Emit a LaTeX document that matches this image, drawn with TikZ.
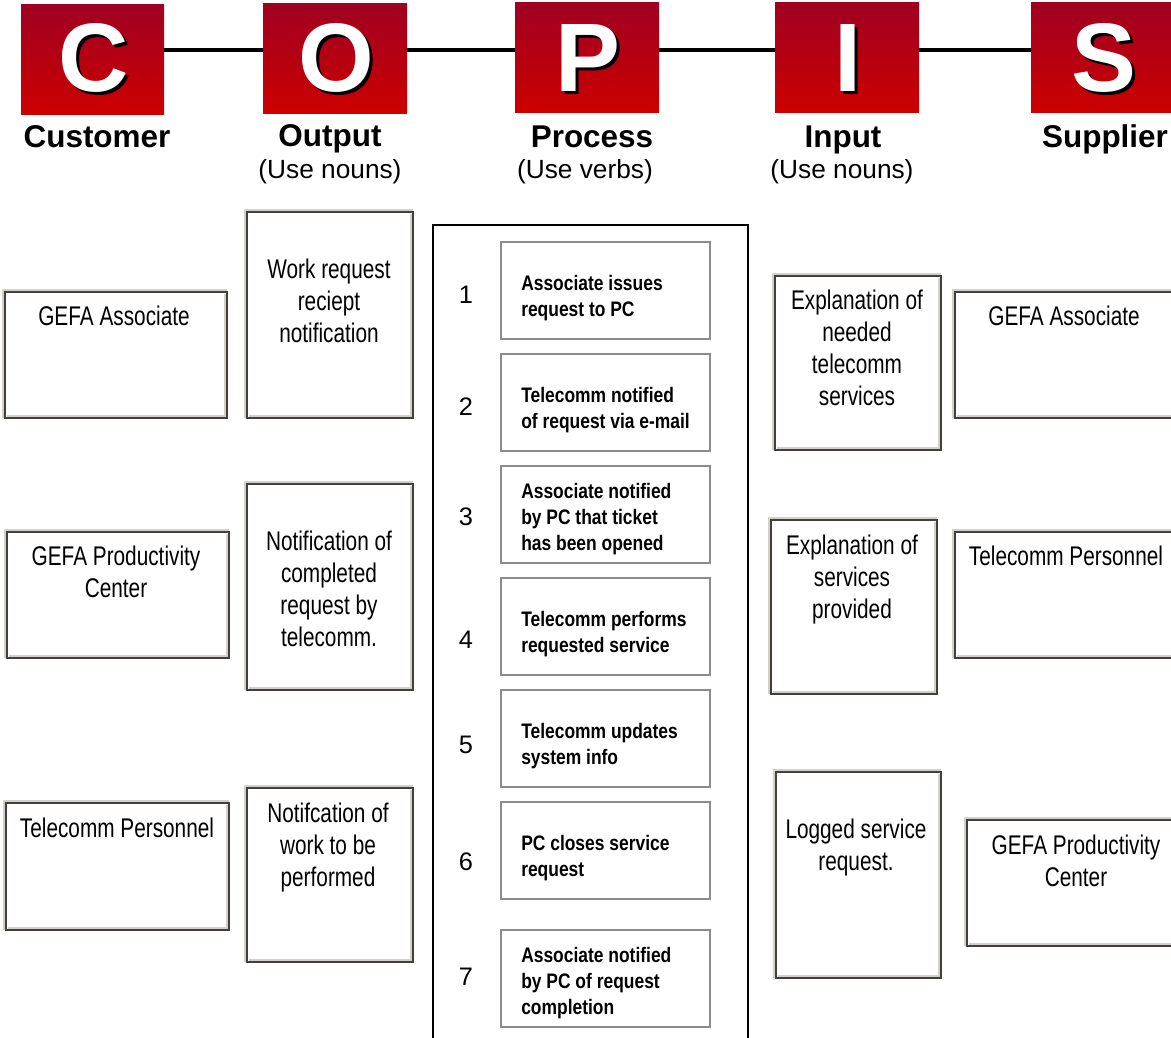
\documentclass[tikz,border=0pt]{standalone}
\usepackage{fontspec}
\setmainfont{Liberation Sans}
\newfontfamily\narrowf[FakeStretch=0.77]{Liberation Sans}
\newfontfamily\narrowbf[FakeStretch=0.83]{Liberation Sans}
\usetikzlibrary{fit}
\definecolor{dk}{HTML}{404040}
\definecolor{lt}{HTML}{D4D0C8}
\definecolor{redtop}{HTML}{A00022}
\definecolor{redbot}{HTML}{CC0000}
\definecolor{pgray}{HTML}{8C8C8C}
\newcommand\mybevel[1]{%
  \draw[lite] ([shift={(-2,0)}]#1.south west) |- ([shift={(0,-2)}]#1.north east);
  \draw[lite] ([shift={(2,-2)}]#1.south west) -| ([shift={(-2,2)}]#1.north east);}
\newcommand\shadowed[1]{\makebox[0pt][l]{\hspace{2.25pt}\raisebox{-2.25pt}{\color{black}#1}}{\color{white}#1}}
\begin{document}
\begin{tikzpicture}[x=0.75pt,y=-0.75pt,
  box/.style={draw=dk, line width=1.5pt, inner sep=0pt, outer sep=0pt},
  lite/.style={draw=lt, line width=1.5pt},
  boxtext/.style={font=\narrowf\fontsize{20.25}{24}\selectfont, align=center, anchor=north, inner sep=0pt},
  pbox/.style={draw=pgray, line width=1.5pt, inner sep=0pt, outer sep=0pt},
  ptext/.style={font=\narrowbf\bfseries\fontsize{15.75}{19.5}\selectfont, align=left, anchor=north west, inner sep=0pt},
  num/.style={font=\fontsize{19}{22}\selectfont, inner sep=0pt},
  letterbox/.style={top color=redtop, bottom color=redbot, inner sep=0pt, outer sep=0pt},
  letter/.style={font=\bfseries\fontsize{73}{80}\selectfont, anchor=base, inner sep=0pt},
  head/.style={font=\bfseries\fontsize{23.6}{28}\selectfont, anchor=base, inner sep=0pt},
  sub/.style={font=\fontsize{19.7}{24}\selectfont, anchor=base, inner sep=0pt},
  link/.style={draw=black, line width=3pt}]
\useasboundingbox[fill=white] (0,0) rectangle (1171,1038);

% header boxes
\node[letterbox, fit={(21,5)(164,115)}] (Cb) {};
\node[letterbox, fit={(263,4)(407,114)}] (Ob) {};
\node[letterbox, fit={(515,3)(659,113)}] (Pb) {};
\node[letterbox, fit={(775,3)(919,113)}] (Ib) {};
\node[letterbox, fit={(1031,3)(1175,113)}] (Sb) {};
\draw[link] (Cb.east |- 0,50) -- (Ob.west |- 0,50);
\draw[link] (Ob.east |- 0,50) -- (Pb.west |- 0,50);
\draw[link] (Pb.east |- 0,50) -- (Ib.west |- 0,50);
\draw[link] (Ib.east |- 0,50) -- (Sb.west |- 0,50);

\node[letter] (Cl) at (94,92) {\shadowed{C}};
\node[letter] (Ol) at (336,92) {\shadowed{O}};
\node[letter] (Pl) at (588,92) {\shadowed{P}};
\node[letter] (Il) at (848,92) {\shadowed{I}};
\node[letter] (Sl) at (1104,92) {\shadowed{S}};

\node[head] (Ch) at (97,148) {Customer};
\node[head] (Oh) at (330,147) {Output};
\node[sub] (Os2) at (330,179) {(Use nouns)};
\node[head] (Ph) at (592,148) {Process};
\node[sub] (Ps2) at (585,179) {(Use verbs)};
\node[head] (Ih) at (843,148) {Input};
\node[sub] (Is2) at (842,179) {(Use nouns)};
\node[head] (Sh) at (1105,148) {Supplier};

% customer column
\node[box, fit={(5,292)(227,418)}] (c1) {};
\node[box, fit={(7,532)(229,658)}] (c2) {};
\node[box, fit={(6,803)(229,930)}] (c3) {};
% output column
\node[box, fit={(247,212)(413,418)}] (o1) {};
\node[box, fit={(247,484)(413,690)}] (o2) {};
\node[box, fit={(247,788)(413,962)}] (o3) {};
% input column
\node[box, fit={(775,276)(941,450)}] (i1) {};
\node[box, fit={(771,520)(937,694)}] (i2) {};
\node[box, fit={(776,772)(941,978)}] (i3) {};
% supplier column
\node[box, fit={(955,292)(1185,418)}] (s1) {};
\node[box, fit={(955,532)(1185,658)}] (s2) {};
\node[box, fit={(967,820)(1185,946)}] (s3) {};
\foreach \b in {c1,c2,c3,o1,o2,o3,i1,i2,i3,s1,s2,s3} {\mybevel{\b}}

\node[boxtext] (c1t) at (114,306) {GEFA Associate};
\node[boxtext] (c2t) at (116,546) {GEFA Productivity\\Center};
\node[boxtext] (c3t) at (117,818) {Telecomm Personnel};
\node[boxtext] (o1t) at (329,259) {Work request\\reciept\\notification};
\node[boxtext] (o2t) at (329,531) {Notification of\\completed\\request by\\telecomm.};
\node[boxtext] (o3t) at (328,803) {Notifcation of\\work to be\\performed};
\node[boxtext] (i1t) at (857,290) {Explanation of\\needed\\telecomm\\services};
\node[boxtext] (i2t) at (852,535) {Explanation of\\services\\provided};
\node[boxtext] (i3t) at (856,819) {Logged service\\request.};
\node[boxtext] (s1t) at (1064,306) {GEFA Associate};
\node[boxtext] (s2t) at (1066,546) {Telecomm Personnel};
\node[boxtext] (s3t) at (1076,835) {GEFA Productivity\\Center};

% process
\node[draw=black, line width=1.5pt, inner sep=0pt, fit={(433,225)(748,1060)}] (proc) {};
\node[pbox, fit={(501,242)(710,339)}] (p1) {};
\node[pbox, fit={(501,354)(710,451)}] (p2) {};
\node[pbox, fit={(501,466)(710,563)}] (p3) {};
\node[pbox, fit={(501,578)(710,675)}] (p4) {};
\node[pbox, fit={(501,690)(710,787)}] (p5) {};
\node[pbox, fit={(501,802)(710,899)}] (p6) {};
\node[pbox, fit={(501,930)(710,1027)}] (p7) {};
\node[ptext] (p1t) at (521,275) {Associate issues\\request to PC};
\node[ptext] (p2t) at (521,387) {Telecomm notified\\of request via e-mail};
\node[ptext] (p3t) at (521,483) {Associate notified\\by PC that ticket\\has been opened};
\node[ptext] (p4t) at (521,611) {Telecomm performs\\requested service};
\node[ptext] (p5t) at (521,723) {Telecomm updates\\system info};
\node[ptext] (p6t) at (521,835) {PC closes service\\request};
\node[ptext] (p7t) at (521,947) {Associate notified\\by PC of request\\completion};
\node[num] (n1) at (466,295) {1};
\node[num] (n2) at (466,407) {2};
\node[num] (n3) at (466,517) {3};
\node[num] (n4) at (466,640) {4};
\node[num] (n5) at (466,745) {5};
\node[num] (n6) at (466,862) {6};
\node[num] (n7) at (466,977) {7};
\end{tikzpicture}
\end{document}
